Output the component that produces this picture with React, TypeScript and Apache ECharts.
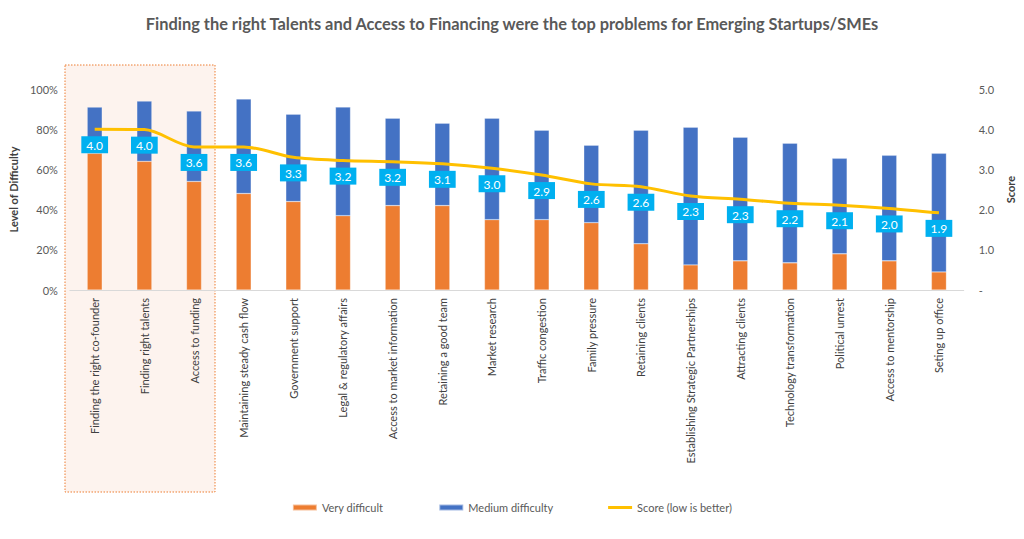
import React, { useEffect, useRef } from "react";
import * as echarts from "echarts";

const categories = [
  "Finding the right co-founder",
  "Finding right talents",
  "Access to funding",
  "Maintaining steady cash flow",
  "Government support",
  "Legal & regulatory affairs",
  "Access to market information",
  "Retaining a good team",
  "Market research",
  "Traffic congestion",
  "Family pressure",
  "Retaining clients",
  "Establishing Strategic Partnerships",
  "Attracting clients",
  "Technology transformation",
  "Political unrest",
  "Access to mentorship",
  "Seting up office",
];

const veryDifficult = [68, 64, 54, 48, 44, 37, 42, 42, 35, 35, 33.5, 23, 12.5, 14.5, 13.5, 18, 14.5, 9];
const mediumDifficulty = [23, 30, 35, 47, 43.5, 54, 43.5, 41, 50.5, 44.5, 38.5, 56.5, 68.5, 61.5, 59.5, 47.5, 52.5, 59];
const score = [4.0, 3.99, 3.56, 3.56, 3.3, 3.22, 3.19, 3.14, 3.03, 2.86, 2.64, 2.57, 2.34, 2.26, 2.16, 2.11, 2.03, 1.92];

const leftTicks = [0, 20, 40, 60, 80, 100];
const rightTicks = [0, 1, 2, 3, 4, 5];

const FONT = "Lato, 'Open Sans', sans-serif";

export default function App() {
  const ref = useRef<HTMLDivElement>(null);

  useEffect(() => {
    if (!ref.current) return;
    const chart = echarts.init(ref.current, undefined, { renderer: "svg" });
    const gridLeft = 65;
    const gridRight = 59;
    const gridTop = 89;
    const gridBottom = 249;
    const plotW = 1024 - gridLeft - gridRight;
    const band = plotW / categories.length;

    chart.setOption({
      animation: false,
      backgroundColor: "#ffffff",
      textStyle: { fontFamily: FONT },
      title: {
        text: "Finding the right Talents and Access to Financing were the top problems for Emerging Startups/SMEs",
        left: "center",
        top: 10,
        textStyle: { fontFamily: FONT, fontSize: 16.4, fontWeight: "bold", color: "#595959" },
      },
      graphic: [
        {
          type: "rect",
          z: -10,
          shape: { x: gridLeft, y: 65, width: band * 3, height: 427 },
          style: { fill: "#fdf3ee", stroke: "#ed7d31", lineWidth: 1, lineDash: [1.5, 1.5] },
        },
      ],
      legend: {
        bottom: 21,
        left: "center",
        itemGap: 55,
        itemWidth: 24,
        itemHeight: 6,
        textStyle: { fontFamily: FONT, fontSize: 11, color: "#595959" },
        data: [
          { name: "Very difficult", icon: "rect" },
          { name: "Medium difficulty", icon: "rect" },
          {
            name: "Score (low is better)",
            icon: "path://M0,0H24V3H0Z",
            itemStyle: { color: "#ffc000", opacity: 1 },
          },
        ],
      },
      grid: { left: gridLeft, right: gridRight, top: gridTop, bottom: gridBottom, containLabel: false },
      xAxis: {
        type: "category",
        data: categories,
        axisTick: { show: false },
        axisLine: { lineStyle: { color: "#d9d9d9" } },
        axisLabel: {
          rotate: 90,
          interval: 0,
          fontFamily: FONT,
          fontSize: 11,
          color: "#404040",
          margin: 8,
        },
      },
      yAxis: [
        {
          type: "value",
          min: 0,
          max: 100,
          interval: 20,
          name: "Level of Difficulty",
          nameLocation: "middle",
          nameGap: 44,
          nameTextStyle: { fontFamily: FONT, fontSize: 11, fontWeight: "bold", color: "#404040" },
          splitLine: { show: false },
          axisLine: { show: false },
          axisTick: { show: false },
          axisLabel: {
            fontFamily: FONT,
            fontSize: 11,
            color: "#595959",
            margin: 12,
            formatter: (v: number) => (leftTicks.includes(v) ? v + "%" : ""),
          },
        },
        {
          type: "value",
          min: 0,
          max: 5,
          interval: 1,
          name: "Score",
          nameLocation: "middle",
          nameGap: 38,
          nameTextStyle: { fontFamily: FONT, fontSize: 11, fontWeight: "bold", color: "#404040" },
          splitLine: { show: false },
          axisLine: { show: false },
          axisTick: { show: false },
          axisLabel: {
            fontFamily: FONT,
            fontSize: 11,
            color: "#595959",
            margin: 15,
            formatter: (v: number) => (rightTicks.includes(v) ? (v === 0 ? "-" : v.toFixed(1)) : ""),
          },
        },
      ],
      series: [
        {
          name: "Very difficult",
          type: "bar",
          stack: "d",
          data: veryDifficult,
          barWidth: 15,
          itemStyle: { color: "#ed7d31", borderColor: "rgba(255,255,255,0.5)", borderWidth: 0.5 },
        },
        {
          name: "Medium difficulty",
          type: "bar",
          stack: "d",
          data: mediumDifficulty,
          barWidth: 15,
          itemStyle: { color: "#4472c4", borderColor: "rgba(255,255,255,0.5)", borderWidth: 0.5 },
        },
        {
          name: "Score (low is better)",
          type: "line",
          yAxisIndex: 1,
          data: score,
          smooth: 0.3,
          symbol: "circle",
          symbolSize: 0.1,
          showSymbol: true,
          z: 5,
          lineStyle: { color: "#ffc000", width: 3 },
          itemStyle: { color: "#ffc000" },
          label: {
            show: true,
            position: "bottom",
            distance: 7,
            formatter: (p: any) => Number(p.value).toFixed(1),
            fontFamily: FONT,
            fontSize: 12,
            color: "#ffffff",
            backgroundColor: "#00b0f0",
            padding: [3, 5, 2, 5],
          },
        },
      ],
    });
    return () => chart.dispose();
  }, []);

  return (
    <div
      ref={ref}
      style={{ position: "absolute", left: 0, top: 0, width: 1024, height: 539 }}
    />
  );
}
